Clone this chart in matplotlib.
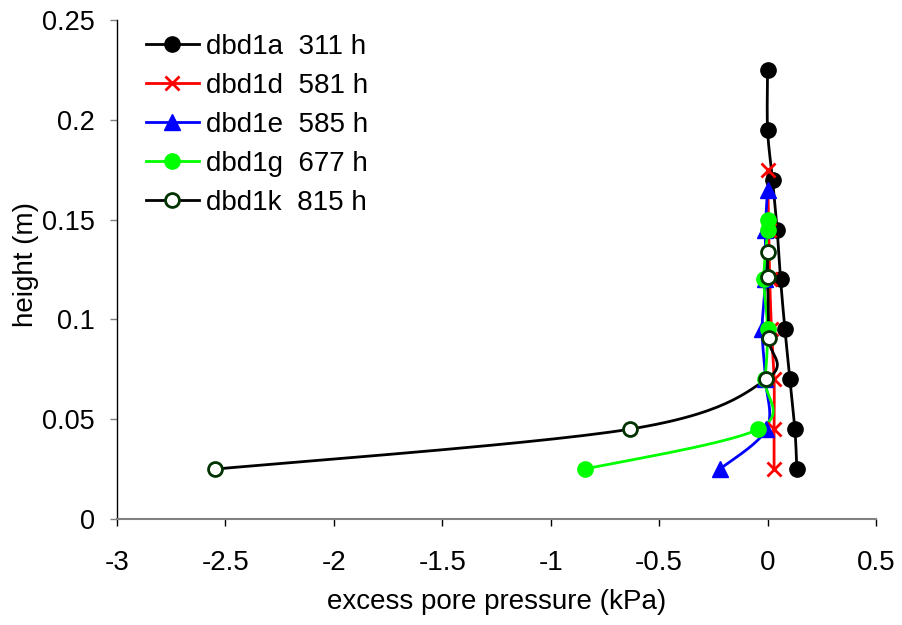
import numpy as np
import matplotlib
matplotlib.use("Agg")
import matplotlib.pyplot as plt

plt.rcParams['font.family'] = ['Liberation Sans', 'DejaVu Sans']

# ---- data ----
a_x = [0.0, 0.0, 0.023, 0.044, 0.06, 0.08, 0.103, 0.126, 0.135]
a_y = [0.225, 0.195, 0.17, 0.145, 0.12, 0.095, 0.07, 0.045, 0.025]

d_x = [0.0, 0.005, 0.01, 0.018, 0.03, 0.03, 0.03]
d_y = [0.175, 0.145, 0.12, 0.095, 0.07, 0.045, 0.025]

e_x = [0.0, -0.01, -0.01, -0.025, -0.01, -0.005, -0.22]
e_y = [0.165, 0.145, 0.12, 0.095, 0.07, 0.045, 0.025]

g_x = [0.0, 0.0, -0.017, 0.0, -0.012, -0.043, -0.843]
g_y = [0.15, 0.145, 0.12, 0.095, 0.07, 0.045, 0.025]

k_x = [0.0, 0.0, 0.005, -0.005, -0.636, -2.546]
k_y = [0.134, 0.121, 0.0907, 0.07, 0.045, 0.025]

labels = ["dbd1a  311 h", "dbd1d  581 h", "dbd1e  585 h", "dbd1g  677 h", "dbd1k  815 h"]
x_ticks = [-3, -2.5, -2, -1.5, -1, -0.5, 0, 0.5]
y_ticks = [0, 0.05, 0.1, 0.15, 0.2, 0.25]

FS = 20


def smooth(xs, ys, n=30):
    """Parametric Catmull-Rom curve through the points (Excel-like smoothing)."""
    P = np.column_stack([xs, ys]).astype(float)
    if len(P) < 3:
        return P[:, 0], P[:, 1]
    ext = np.vstack([P[0], P, P[-1]])
    out = []
    t = np.linspace(0, 1, n)[:, None]
    for i in range(1, len(ext) - 2):
        p0, p1, p2, p3 = ext[i - 1], ext[i], ext[i + 1], ext[i + 2]
        c1 = p1 + (p2 - p0) / 6.0
        c2 = p2 - (p3 - p1) / 6.0
        seg = ((1 - t) ** 3) * p1 + 3 * ((1 - t) ** 2) * t * c1 + 3 * (1 - t) * t ** 2 * c2 + t ** 3 * p2
        out.append(seg if i == 1 else seg[1:])
    S = np.vstack(out)
    return S[:, 0], S[:, 1]


fig = plt.figure(figsize=(9.03, 6.25), dpi=100)
ax = fig.add_axes([117 / 903, 1 - 519 / 625, (876 - 117) / 903, (519 - 20) / 625])

series = [
    (a_x, a_y, dict(color='black', marker='o', ms=11, mfc='black', mec='black')),
    (d_x, d_y, dict(color='#ff0000', marker='x', ms=10, mew=2, mec='#ff0000')),
    (e_x, e_y, dict(color='#0000ff', marker='^', ms=11, mfc='#0000ff', mec='#0000ff')),
    (g_x, g_y, dict(color='#00ff00', marker='o', ms=11, mfc='#00ff00', mec='#00ff00')),
    (k_x, k_y, dict(color='black', marker='o', ms=10, mfc='white', mec='#003300', mew=2)),
]

for (xs, ys, st), lab in zip(series, labels):
    sx, sy = smooth(xs, ys)
    ax.plot(sx, sy, color=st['color'], lw=2, zorder=2)
    mk = {k: v for k, v in st.items() if k != 'color'}
    ax.plot(xs, ys, ls='none', zorder=3, **mk)
    ax.plot([], [], color=st['color'], lw=2, label=lab, **mk)

ax.set_xlim(-3, 0.5)
ax.set_ylim(0, 0.25)
ax.set_xticks(x_ticks)
ax.set_xticklabels([f"{v:g}" for v in x_ticks])
ax.set_yticks(y_ticks)
ax.set_yticklabels([f"{v:g}" for v in y_ticks])

for s in ['top', 'right']:
    ax.spines[s].set_visible(False)
ax.spines['left'].set_color('black')
ax.spines['bottom'].set_color('#808080')
ax.spines['left'].set_linewidth(1)
ax.spines['bottom'].set_linewidth(1.5)
ax.tick_params(axis='x', direction='out', length=5, width=1, labelsize=FS, pad=17)
ax.tick_params(axis='y', direction='out', length=5, width=1, labelsize=19.5, pad=11, color='#808080')

ax.set_xlabel("excess pore pressure (kPa)", fontsize=FS, labelpad=10)
ax.set_ylabel("height (m)", fontsize=FS)
ax.yaxis.set_label_coords(-0.103, 0.51)

leg = ax.legend(loc='upper left', bbox_to_anchor=(0.02, 1.0), frameon=False, fontsize=FS,
                handlelength=1.9, handletextpad=0.25, labelspacing=0.47, borderaxespad=0.2,
                borderpad=0.3)

fig.savefig("out.png", dpi=100)
